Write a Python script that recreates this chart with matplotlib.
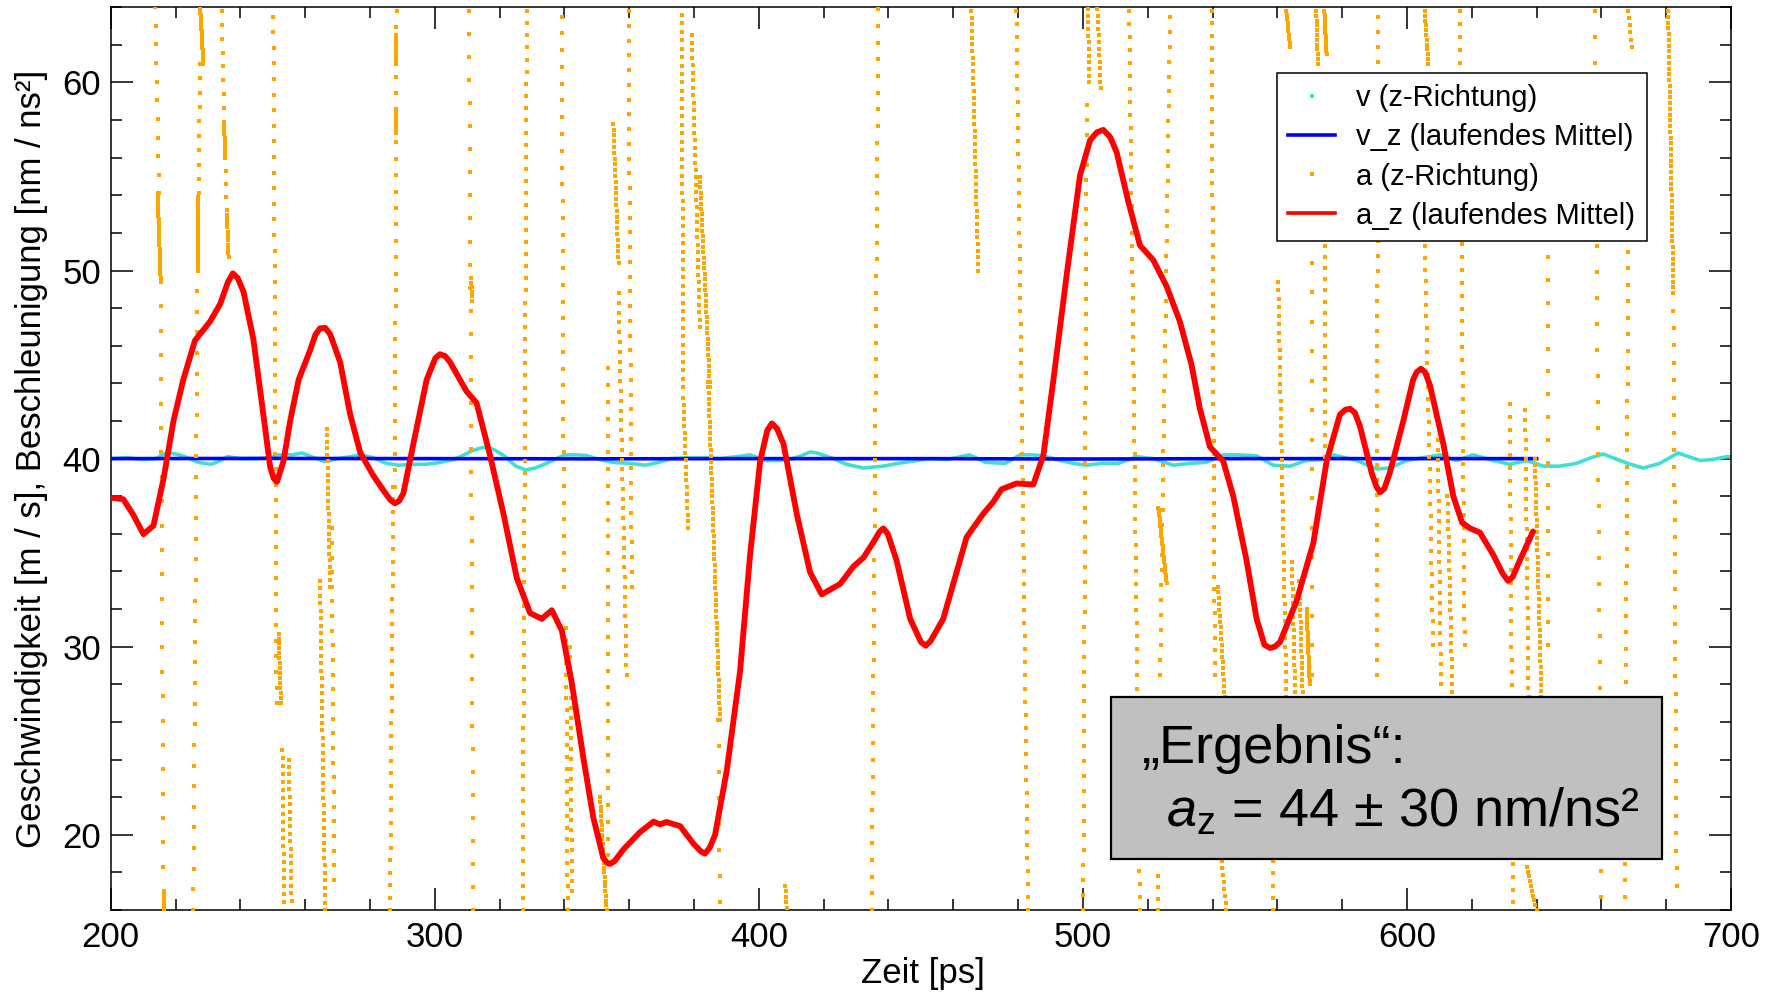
import numpy as np
import matplotlib
matplotlib.use("Agg")
import matplotlib.pyplot as plt
from matplotlib.lines import Line2D
from matplotlib.patches import Rectangle
from matplotlib.ticker import MultipleLocator

plt.rcParams["font.family"] = ["Liberation Sans", "DejaVu Sans"]
plt.rcParams["mathtext.fontset"] = "custom"
plt.rcParams["mathtext.rm"] = "Liberation Sans"
plt.rcParams["mathtext.it"] = "Liberation Sans:italic"

# ---- velocity in z direction (raw samples) ----
v_t = [200, 205, 210, 214, 217, 220, 223, 227, 231, 234, 236, 240, 245, 249, 252,
       256, 259, 262, 266, 270, 274, 277, 281, 285, 289, 293, 297, 300, 303, 306,
       309, 312, 315, 318, 321, 325, 328, 331, 334.5, 337, 340, 344, 347, 351, 355,
       360, 365, 369, 373, 378, 383, 388, 393, 397.3, 402, 406, 409.6, 413, 415.8,
       417.9, 423, 427, 432.3, 438.4, 443, 448.7, 453, 458, 465, 470, 476, 480.6,
       484, 487.8, 493, 497, 501, 506, 511, 516.6, 521.7, 527.9, 533, 538, 543.3,
       548, 553.6, 558.7, 563.9, 569, 574, 577.2, 584.5, 590.6, 594.7, 599.9, 605,
       610.2, 615.3, 620.4, 626.6, 631.7, 636.9, 642, 647.2, 652.3, 656, 660.5,
       665.7, 669, 672.9, 678, 683.7, 687, 690.4, 694, 698.6, 700]
v_z = [40.0, 40.05, 39.95, 40.0, 40.3, 40.25, 40.1, 39.8, 39.7, 39.9, 40.1, 40.0,
       40.0, 40.05, 40.2, 40.2, 40.3, 40.1, 39.85, 40.0, 40.1, 40.2, 40.05, 39.75,
       39.65, 39.7, 39.7, 39.75, 39.85, 39.95, 40.2, 40.45, 40.6, 40.5, 40.2, 39.6,
       39.4, 39.5, 39.75, 39.95, 40.2, 40.2, 40.15, 39.95, 39.8, 39.75, 39.65, 39.8,
       40.0, 40.05, 40.05, 40.0, 40.1, 40.2, 39.9, 39.9, 39.95, 40.15, 40.35, 40.3,
       40.0, 39.7, 39.5, 39.6, 39.75, 39.9, 40.0, 39.95, 40.2, 39.8, 39.75, 40.2,
       40.2, 40.15, 39.9, 39.75, 39.65, 39.75, 39.75, 40.1, 40.0, 39.65, 39.75,
       39.8, 40.2, 40.2, 40.15, 39.65, 39.6, 39.9, 39.95, 40.2, 39.9, 39.45, 39.5,
       39.9, 40.05, 40.2, 39.9, 40.2, 39.9, 39.7, 39.9, 39.6, 39.6, 39.75, 40.0,
       40.25, 39.9, 39.7, 39.5, 39.75, 40.3, 40.1, 39.9, 39.95, 40.1, 40.1]

# ---- running mean of velocity ----
vm_t = [200, 250, 300, 350, 400, 450, 500, 550, 600, 640]
vm_z = [40.0, 40.01, 40.0, 39.99, 40.0, 40.0, 39.98, 40.0, 40.0, 40.0]

# ---- running mean of acceleration ----
am_t = [199.8, 203.9, 207.0, 210.1, 213.2, 216.3, 219.4, 222.4, 226.0, 230.7,
        233.8, 236.2, 237.7, 239.2, 241.0, 244.0, 247.1, 249.2, 250.3, 251.3,
        253.3, 255.4, 258.0, 261.5, 263.2, 264.6, 266.2, 267.7, 270.8, 273.9,
        277.0, 281.1, 284.2, 286.3, 287.7, 289.0, 290.3, 293.4, 297.5, 300.2,
        301.6, 303.2, 304.7, 309.8, 312.9, 317.05, 321.2, 325.3, 329.4, 333.0,
        336.1, 339.2, 342.3, 345.9, 348.9, 352.0, 353.2, 354.1, 355.5, 358.2,
        363.4, 367.5, 369.5, 371.5, 375.7, 379.8, 382.2, 383.4, 384.8, 386.5,
        390.1, 394.2, 397.3, 400.4, 402.6, 404.0, 405.6, 407.6, 411.7, 415.8,
        419.4, 425.1, 429.2, 432.3, 435.5, 437.2, 438.4, 439.8, 442.5, 446.7,
        450.0, 451.5, 453.0, 456.9, 460.0, 464.1, 469.2, 472.3, 474.9, 479.5,
        484.7, 487.8, 490.9, 495.0, 499.1, 502.2, 504.3, 506.3, 508.4, 510.4,
        514.0, 517.6, 521.7, 525.8, 529.9, 533.5, 536.1, 539.2, 543.3, 546.4,
        550.5, 553.6, 556.0, 557.7, 559.2, 560.8, 565.9, 571.1, 575.2, 579.3,
        581.0, 582.4, 583.9, 585.5, 589.1, 590.6, 591.7, 593.0, 594.7, 598.9,
        601.9, 603.0, 604.3, 605.6, 607.1, 611.2, 614.3, 617.0, 619.4, 622.5,
        626.6, 629.5, 631.2, 632.6, 634.8, 638.9]
am_z = [37.93, 37.84, 37.0, 35.98, 36.44, 38.93, 42.03, 44.2, 46.28, 47.3,
        48.23, 49.4, 49.85, 49.6, 48.86, 46.37, 42.34, 39.55, 38.95, 38.77,
        39.86, 42.03, 44.2, 45.75, 46.6, 46.93, 46.95, 46.62, 45.13, 42.34,
        40.32, 39.08, 38.3, 37.8, 37.62, 37.75, 38.15, 40.79, 44.2, 45.35,
        45.55, 45.45, 45.13, 43.58, 42.96, 40.17, 37.06, 33.65, 31.79, 31.48,
        31.94, 30.86, 28.06, 24.03, 20.93, 18.76, 18.5, 18.45, 18.6, 19.22,
        20.15, 20.7, 20.55, 20.68, 20.46, 19.53, 19.1, 19.0, 19.3, 20.0,
        23.41, 28.69, 34.89, 39.86, 41.5, 41.87, 41.6, 40.79, 37.06, 33.96,
        32.78, 33.34, 34.27, 34.74, 35.6, 36.1, 36.29, 36.0, 34.58, 31.48,
        30.25, 30.05, 30.3, 31.48, 33.34, 35.82, 37.06, 37.69, 38.37, 38.68,
        38.62, 40.17, 44.2, 49.79, 55.06, 56.92, 57.35, 57.48, 57.1, 56.3,
        53.67, 51.34, 50.56, 49.17, 47.3, 45.0, 42.65, 40.63, 39.86, 38.0,
        34.58, 31.48, 30.1, 29.93, 30.0, 30.24, 32.41, 35.51, 39.86, 42.34,
        42.6, 42.65, 42.45, 41.72, 39.24, 38.5, 38.21, 38.4, 39.24, 42.03,
        44.2, 44.6, 44.78, 44.6, 43.89, 40.79, 38.0, 36.6, 36.3, 36.07,
        34.89, 33.9, 33.5, 33.7, 34.58, 36.13]

# ---- raw acceleration samples: near-vertical runs of points inside the window
# (x at upper end, x at lower end, y upper, y lower, number of samples) ----
a_x_top = [213.7, 214.5, 215.4, 216.5, 227.6, 227.6, 227.1, 226.8, 234.3, 235.0,
           235.3, 235.8, 250.2, 251.8, 253.0, 255.0, 266.7, 264.6, 268.2,
           288.2, 288.0, 287.9, 287.2, 310.6, 311.3, 328.4, 339.2, 340.5, 341.8,
           351.0, 353.6, 355.1, 356.7, 359.8,
           376.2, 376.7, 379.3, 381.8, 384.4, 387.5, 408.1, 436.9,
           465.6, 479.5, 501.5, 504.5, 501.2, 514.3, 526.9, 523.3, 523.3,
           539.7, 541.7, 542.8, 562.8, 560.3, 558.7, 564.5, 566.8, 569.0, 572.0,
           574.5, 574.7, 570.6, 591.1, 605.5, 605.5, 609.5, 612.5,
           616.3, 631.7, 636.5, 639.5, 636.9, 643.6, 658.0, 668.3, 668.3, 680.6,
           682.2]
a_x_bot = [215.0, 215.4, 216.3, 216.5, 228.6, 227.1, 226.8, 225.5, 235.0, 235.3,
           235.8, 236.4, 251.2, 252.5, 253.5, 255.8, 267.7, 266.2, 269.0,
           287.7, 288.0, 287.9, 286.2, 311.9, 311.4, 327.1, 339.9, 341.0, 342.3,
           353.0, 353.6, 356.7, 359.2, 360.8,
           376.7, 378.2, 381.8, 384.9, 388.0, 388.0, 408.6, 434.8,
           467.7, 483.1, 502.0, 505.5, 500.1, 517.6, 523.8, 525.8, 523.3,
           540.7, 543.8, 544.3, 563.9, 562.8, 558.7, 565.5, 567.8, 570.0, 572.5,
           575.2, 574.7, 570.6, 590.6, 606.6, 608.1, 610.5, 614.0,
           617.8, 632.8, 637.5, 641.5, 640.0, 643.6, 660.0, 669.3, 667.2, 682.2,
           683.2]
a_y_top = [64.0, 54.1, 49.4, 17.0, 64.0, 61.0, 54.1, 50.0, 63.8, 57.9,
           56.0, 53.2, 63.5, 30.7, 24.5, 24.0, 41.6, 33.5, 36.3,
           63.8, 62.5, 58.5, 38.5, 63.8, 49.6, 63.8, 63.5, 31.0, 30.0,
           22.0, 44.8, 57.8, 48.8, 63.8,
           63.6, 43.2, 62.5, 55.0, 44.1, 26.1, 17.3, 63.9,
           63.8, 63.8, 63.9, 63.9, 58.8, 63.8, 63.5, 37.4, 17.8,
           63.8, 33.2, 18.6, 63.8, 49.4, 18.6, 34.5, 33.5, 32.0, 63.8,
           63.8, 51.3, 50.4, 63.5, 63.8, 51.3, 41.0, 38.0,
           63.8, 42.9, 42.6, 40.0, 18.3, 50.7, 63.8, 63.8, 51.0, 63.8,
           48.8]
a_y_bot = [54.1, 49.4, 17.0, 16.0, 61.0, 54.1, 50.0, 16.0, 57.9, 56.0,
           53.2, 50.7, 27.0, 27.0, 16.4, 16.5, 33.2, 16.0, 17.6,
           38.5, 61.0, 57.3, 16.0, 16.0, 48.4, 16.0, 33.2, 16.0, 17.0,
           16.0, 18.9, 50.4, 28.5, 33.2,
           43.8, 36.3, 47.0, 43.8, 26.1, 16.4, 16.1, 16.0,
           50.0, 16.0, 60.0, 59.7, 16.0, 16.0, 28.5, 33.4, 16.0,
           28.5, 27.3, 16.0, 61.9, 27.3, 16.0, 27.6, 27.6, 28.0, 61.0,
           61.5, 40.1, 28.5, 28.5, 61.0, 30.1, 28.0, 27.6,
           30.1, 16.4, 27.3, 27.3, 16.0, 30.1, 16.7, 61.9, 16.7, 48.8,
           17.3]
a_n = [11, 25, 26, 8, 22, 10, 25, 32, 9, 10,
       5, 12, 45, 15, 20, 20, 25, 45, 25,
       30, 12, 8, 35, 40, 6, 75, 35, 25, 25,
       25, 30, 25, 40, 40,
       45, 20, 40, 40, 60, 8, 5, 55,
       40, 70, 12, 13, 55, 70, 45, 30, 4,
       55, 20, 8, 10, 50, 5, 20, 20, 20, 12,
       13, 20, 15, 45, 12, 35, 25, 25,
       50, 40, 30, 40, 10, 18, 35, 6, 40, 50,
       35]

a_t, a_z = [], []
for x0, x1, y0, y1, n in zip(a_x_top, a_x_bot, a_y_top, a_y_bot, a_n):
    s = np.linspace(0.0, 1.0, n)
    a_t.append(x0 + (x1 - x0) * s)
    a_z.append(y0 + (y1 - y0) * s)
a_t = np.concatenate(a_t)
a_z = np.concatenate(a_z)

C_V = "#40E0D0"
C_VM = "#0000FF"
C_A = "#FFA500"
C_AM = "#FF0000"

fig = plt.figure(figsize=(17.8, 9.94), dpi=100)
ax = fig.add_axes([0.0622, 0.0845, 0.9103, 0.9082])

ax.plot(v_t, v_z, color=C_V, lw=2.6, solid_joinstyle="round", zorder=2)
ax.plot(vm_t, vm_z, color=C_VM, lw=2.6, zorder=3)
ax.plot(a_t, a_z, ls="none", marker="s", ms=2.3, mew=0, color=C_A, zorder=4)
ax.plot(am_t, am_z, color=C_AM, lw=4.2, solid_joinstyle="round",
        solid_capstyle="round", zorder=5)

ax.set_xlim(200, 700)
ax.set_ylim(16, 64)
ax.xaxis.set_major_locator(MultipleLocator(100))
ax.xaxis.set_minor_locator(MultipleLocator(20))
ax.yaxis.set_major_locator(MultipleLocator(10))
ax.yaxis.set_minor_locator(MultipleLocator(2))
ax.tick_params(which="both", direction="in", top=True, right=True,
               width=1.1, labelsize=25)
ax.tick_params(which="major", length=15.8)
ax.tick_params(which="minor", length=8)
ax.tick_params(axis="x", pad=8)
ax.tick_params(axis="y", pad=7)
for sp in ax.spines.values():
    sp.set_linewidth(1.1)

ax.set_xlabel("Zeit [ps]", fontsize=25)
ax.set_ylabel("Geschwindigkeit [m / s], Beschleunigung [nm / ns²]", fontsize=25)
ax.xaxis.set_label_coords(0.501, -0.052)
ax.yaxis.set_label_coords(-0.0385, 0.5)

handles = [
    Line2D([], [], ls="none", marker="s", ms=2.3, mew=0, color=C_V),
    Line2D([], [], color=C_VM, lw=2.6),
    Line2D([], [], ls="none", marker="s", ms=2.3, mew=0, color=C_A),
    Line2D([], [], color=C_AM, lw=2.6),
]
labels = ["v (z-Richtung)", "v_z (laufendes Mittel)",
          "a (z-Richtung)", "a_z (laufendes Mittel)"]
leg = ax.legend(handles, labels, loc="upper right", bbox_to_anchor=(0.948, 0.9275),
                borderaxespad=0, fontsize=21, handlelength=1.6, handletextpad=0.72,
                labelspacing=0.38, borderpad=0.4, fancybox=False, framealpha=1,
                edgecolor="black")
leg.get_frame().set_linewidth(1.1)
leg.set_zorder(10)

box = Rectangle((0.6174, 0.0565), 0.34, 0.1795, transform=ax.transAxes,
                facecolor="#C0C0C0", edgecolor="black", lw=1.6, zorder=11)
ax.add_patch(box)
ax.text(0.636, 0.163, "„Ergebnis“:", transform=ax.transAxes, fontsize=39,
        ha="left", va="baseline", zorder=12)
ax.text(0.651, 0.0923, r"$\mathit{a}_{\mathrm{z}}$ = 44 ± 30 nm/ns²",
        transform=ax.transAxes, fontsize=39, ha="left", va="baseline", zorder=12)

fig.savefig("out.png", dpi=100, facecolor="white")
